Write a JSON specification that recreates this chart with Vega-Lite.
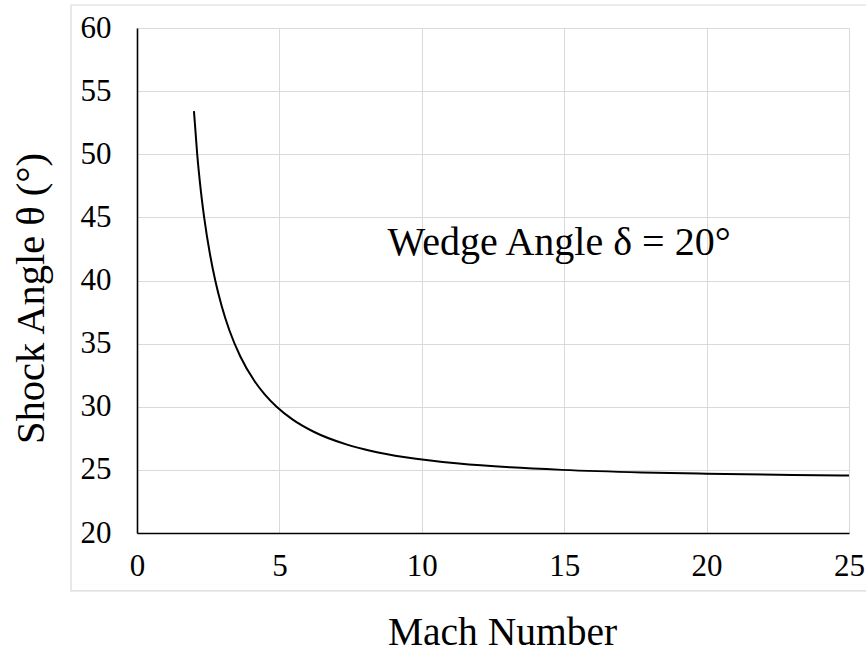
{
  "$schema": "https://vega.github.io/schema/vega-lite/v6.json",
  "autosize": {"type": "none"},
  "width": 712,
  "height": 505,
  "padding": {"left": 137, "top": 28, "right": 17, "bottom": 119},
  "background": "white",
  "config": {
    "view": {"stroke": null},
    "axis": {
      "grid": true,
      "gridColor": "#d9d9d9",
      "gridWidth": 1,
      "domainColor": "#000000",
      "domainWidth": 1.6,
      "ticks": false,
      "tickSize": 0,
      "labelFlush": false,
      "labelOverlap": false,
      "labelFont": "Liberation Serif",
      "labelFontSize": 31,
      "labelColor": "#000000",
      "titleFont": "Liberation Serif",
      "titleFontSize": 40,
      "titleFontWeight": "normal",
      "titleColor": "#000000"
    }
  },
  "layer": [
    {
      "data": {
        "values": [
          {"mach": 2.0, "angle": 53.42},
          {"mach": 2.114, "angle": 50.0},
          {"mach": 2.247, "angle": 47.0},
          {"mach": 2.358, "angle": 45.0},
          {"mach": 2.569, "angle": 42.0},
          {"mach": 2.748, "angle": 40.0},
          {"mach": 2.970, "angle": 38.0},
          {"mach": 3.253, "angle": 36.0},
          {"mach": 3.624, "angle": 34.0},
          {"mach": 4.136, "angle": 32.0},
          {"mach": 4.476, "angle": 31.0},
          {"mach": 4.902, "angle": 30.0},
          {"mach": 5.457, "angle": 29.0},
          {"mach": 6.222, "angle": 28.0},
          {"mach": 7.376, "angle": 27.0},
          {"mach": 8.226, "angle": 26.5},
          {"mach": 9.424, "angle": 26.0},
          {"mach": 11.30, "angle": 25.5},
          {"mach": 13.11, "angle": 25.2},
          {"mach": 14.92, "angle": 25.0},
          {"mach": 17.73, "angle": 24.8},
          {"mach": 20.0, "angle": 24.70},
          {"mach": 23.03, "angle": 24.6},
          {"mach": 25.0, "angle": 24.555}
        ]
      },
      "mark": {"type": "line", "color": "#000000", "strokeWidth": 2, "interpolate": "monotone"},
      "encoding": {
        "x": {
          "field": "mach",
          "type": "quantitative",
          "title": "Mach Number",
          "scale": {"domain": [0, 25], "nice": false, "zero": false},
          "axis": {
            "grid": true,
            "values": [0, 5, 10, 15, 20, 25],
            "labelPadding": 18.5,
            "titleFontSize": 39.5,
            "titleBaseline": "alphabetic",
            "titleX": 365,
            "titleY": 111,
            "titleAnchor": null,
            "titleAlign": "center"
          }
        },
        "y": {
          "field": "angle",
          "type": "quantitative",
          "title": "Shock Angle θ (°)",
          "scale": {"domain": [20, 60], "nice": false, "zero": false},
          "axis": {
            "grid": true,
            "values": [20, 25, 30, 35, 40, 45, 50, 55, 60],
            "labelPadding": 26,
            "titleFontSize": 40.5,
            "titleBaseline": "alphabetic",
            "titleX": -94,
            "titleY": 270,
            "titleAngle": -90,
            "titleAlign": "center"
          }
        }
      }
    },
    {
      "data": {"values": [{"label": "border"}]},
      "mark": {"type": "rect", "fill": null, "stroke": "#d9d9d9", "strokeWidth": 1.2, "clip": false},
      "encoding": {
        "x": {"datum": -2.317, "type": "quantitative"},
        "x2": {"datum": 26.5},
        "y": {"datum": 61.82, "type": "quantitative"},
        "y2": {"datum": 15.41}
      }
    },
    {
      "data": {"values": [{"label": "Wedge Angle δ = 20°"}]},
      "mark": {"type": "text", "font": "Liberation Serif", "fontSize": 40, "align": "left", "baseline": "alphabetic", "fill": "#000000", "stroke": null},
      "encoding": {
        "text": {"field": "label", "type": "nominal"},
        "x": {"datum": 8.8, "type": "quantitative"},
        "y": {"datum": 42.0, "type": "quantitative"}
      }
    }
  ]
}
